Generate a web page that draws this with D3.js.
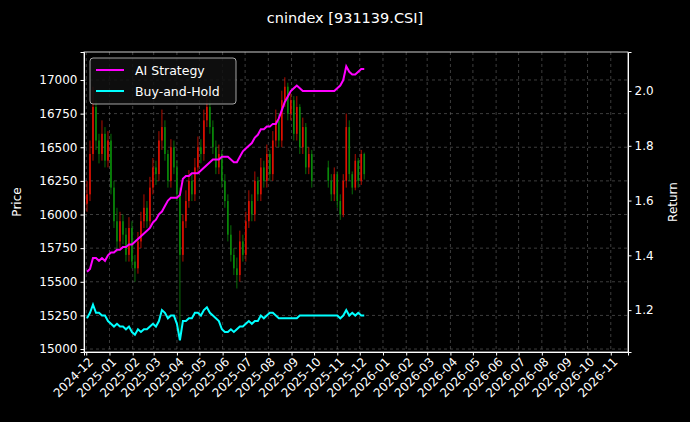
<!DOCTYPE html>
<html lang="en">
<head>
<meta charset="UTF-8">
<title>cnindex [931139.CSI]</title>
<script src="https://d3js.org/d3.v7.min.js"></script>
<style>
  html, body { margin: 0; padding: 0; background: #000; }
  body { width: 690px; height: 422px; overflow: hidden; font-family: 'DejaVu Sans', sans-serif; }
  .axis text { fill: #fff; font-size: 12px; font-family: 'DejaVu Sans', sans-serif; }
  .axis path, .axis line { stroke: #fff; }
  .grid line { stroke: #666; stroke-dasharray: 3,3; stroke-width: 0.6; }
</style>
</head>
<body>
<div id="chart"></div>
<script>
// ---- data ----
// candle dates: two trading segments (holiday gap in October), 4-day spacing
var seg1Start = "2024-12-02", seg1Count = 76;
var seg2Start = "2025-10-20", seg2Count = 13;

var closes = [16150,16450,16800,16550,16450,16600,16400,16550,16200,15950,
  15800,15950,15850,15700,15900,15650,15600,15800,15950,16050,
  15950,16200,16350,16300,16550,16650,16450,16250,16500,16350,
  16150,15700,15950,16100,16250,16150,16350,16500,16450,16700,
  16800,16650,16500,16350,16450,16250,16100,15850,15700,15600,
  15550,15800,15700,15950,16100,16000,16250,16150,16350,16250,
  16450,16300,16550,16700,16550,16850,16950,16750,16850,16600,
  16800,16500,16650,16350,16450,16250,
  16250,16150,16300,16100,16000,16250,16650,16300,16200,16400,16250,16450,16300];
var opens = [16080,16150,16450,16800,16550,16450,16600,16400,16550,16200,
  15950,15800,15950,15850,15700,15900,15650,15600,15800,15950,
  16050,15950,16200,16350,16300,16550,16650,16450,16250,16500,
  16350,16150,15700,15950,16100,16250,16150,16350,16500,16450,
  16700,16800,16650,16500,16350,16450,16250,16100,15850,15700,
  15600,15550,15800,15700,15950,16100,16000,16250,16150,16350,
  16250,16450,16300,16550,16700,16550,16850,16950,16750,16850,
  16600,16800,16500,16650,16350,16450,
  16350,16250,16150,16300,16100,16000,16250,16650,16300,16200,16400,16250,16450];
var highs = [16250,16550,16950,16850,16600,16700,16650,16620,16600,16250,
  16050,16020,16000,15900,15980,15950,15700,15870,16020,16150,
  16100,16280,16420,16400,16620,16780,16700,16480,16560,16550,
  16400,16200,16000,16180,16330,16300,16420,16580,16560,16780,
  16900,16850,16700,16550,16520,16480,16300,16150,15920,15750,
  15680,15880,15850,16020,16180,16150,16320,16280,16420,16400,
  16520,16480,16620,16780,16750,16920,17020,16980,16900,16880,
  16880,16820,16720,16680,16500,16480,
  16400,16300,16350,16320,16150,16300,16750,16700,16320,16450,16420,16480,16460];
var lows = [16020,16100,16400,16480,16380,16400,16350,16350,16150,15900,
  15720,15750,15780,15650,15650,15600,15500,15560,15750,15900,
  15900,15900,16150,16220,16250,16480,16400,16200,16200,16300,
  16100,15090,15650,15900,16050,16100,16100,16300,16380,16400,
  16650,16600,16450,16300,16300,16200,16050,15800,15650,15550,
  15450,15500,15650,15650,15900,15950,15950,16100,16100,16200,
  16200,16250,16250,16500,16500,16500,16800,16700,16700,16550,
  16550,16450,16450,16300,16300,16200,
  16200,16100,16100,16050,15960,15980,16200,16250,16150,16180,16200,16220,16260];

var strategy = [1.34,1.35,1.39,1.39,1.38,1.39,1.38,1.40,1.41,1.41,
  1.42,1.42,1.43,1.43,1.44,1.44,1.45,1.46,1.47,1.48,
  1.49,1.50,1.52,1.53,1.55,1.56,1.58,1.60,1.61,1.61,
  1.61,1.62,1.68,1.69,1.69,1.70,1.70,1.70,1.71,1.72,
  1.73,1.74,1.75,1.75,1.75,1.76,1.76,1.76,1.75,1.74,
  1.74,1.76,1.78,1.79,1.80,1.81,1.83,1.84,1.86,1.86,
  1.87,1.87,1.88,1.88,1.90,1.93,1.96,1.98,2.00,2.01,
  2.02,2.01,2.00,2.00,2.00,2.00,
  2.00,2.00,2.00,2.01,2.02,2.04,2.09,2.07,2.06,2.06,2.07,2.08,2.08];
var buyHold = [1.17,1.19,1.22,1.19,1.19,1.18,1.18,1.16,1.15,1.14,
  1.15,1.14,1.14,1.13,1.14,1.12,1.11,1.13,1.12,1.13,
  1.13,1.14,1.15,1.14,1.16,1.20,1.19,1.17,1.18,1.18,
  1.15,1.09,1.16,1.16,1.17,1.17,1.19,1.19,1.18,1.20,
  1.21,1.19,1.18,1.17,1.16,1.13,1.12,1.12,1.13,1.12,
  1.13,1.14,1.14,1.15,1.16,1.15,1.16,1.16,1.18,1.17,
  1.18,1.19,1.19,1.18,1.17,1.17,1.17,1.17,1.17,1.17,
  1.17,1.18,1.18,1.18,1.18,1.18,
  1.18,1.18,1.18,1.18,1.17,1.18,1.20,1.18,1.19,1.18,1.19,1.18,1.18];

var priceTicks = [15000,15250,15500,15750,16000,16250,16500,16750,17000];
var returnTicks = [1.2,1.4,1.6,1.8,2.0];

// ---- dates ----
var parse = d3.timeParse("%Y-%m-%d");
var dates = [];
var d0 = parse(seg1Start);
for (var i = 0; i < seg1Count; i++) dates.push(d3.timeDay.offset(d0, 4 * i));
var d1 = parse(seg2Start);
for (var j = 0; j < seg2Count; j++) dates.push(d3.timeDay.offset(d1, 4 * j));

var data = dates.map(function(d, k) {
  return {date: d, o: opens[k], h: highs[k], l: lows[k], c: closes[k], s: strategy[k], b: buyHold[k]};
});

// ---- layout ----
var W = 690, H = 422;
var m = {left: 84, right: 62, top: 52, bottom: 70};
var iw = W - m.left - m.right, ih = H - m.top - m.bottom;

var svg = d3.select('#chart').append('svg').attr('width', W).attr('height', H)
  .style('background', '#000');

var x = d3.scaleTime().domain([parse("2024-11-28"), parse("2026-11-24")]).range([0, iw]);
var y = d3.scaleLinear().domain([14978, 17208]).range([ih, 0]);
var y2 = d3.scaleLinear().domain([1.047, 2.1425]).range([ih, 0]);

var g = svg.append('g').attr('transform', 'translate(' + m.left + ',' + m.top + ')');

var months = d3.timeMonth.range(parse("2024-12-01"), parse("2026-11-02"));

// grid
g.append('g').attr('class', 'grid').selectAll('line').data(months).enter().append('line')
  .attr('x1', function(d) { return x(d); }).attr('x2', function(d) { return x(d); })
  .attr('y1', 0).attr('y2', ih);
g.append('g').attr('class', 'grid').selectAll('line').data(priceTicks).enter().append('line')
  .attr('x1', 0).attr('x2', iw)
  .attr('y1', function(d) { return y(d); }).attr('y2', function(d) { return y(d); });

// candles
var cw = 1.6;
var candles = g.append('g').selectAll('g').data(data).enter().append('g');
candles.append('line')
  .attr('x1', function(d) { return x(d.date); }).attr('x2', function(d) { return x(d.date); })
  .attr('y1', function(d) { return y(d.h); }).attr('y2', function(d) { return y(d.l); })
  .attr('stroke', function(d) { return d.c >= d.o ? '#e01000' : '#0a8a0a'; })
  .attr('stroke-width', 0.8);
candles.append('rect')
  .attr('x', function(d) { return x(d.date) - cw / 2; })
  .attr('width', cw)
  .attr('y', function(d) { return y(Math.max(d.o, d.c)); })
  .attr('height', function(d) { return Math.max(1, Math.abs(y(d.o) - y(d.c))); })
  .attr('fill', function(d) { return d.c >= d.o ? '#e01000' : '#0a8a0a'; });

// return lines
var lineS = d3.line().x(function(d) { return x(d.date); }).y(function(d) { return y2(d.s); });
var lineB = d3.line().x(function(d) { return x(d.date); }).y(function(d) { return y2(d.b); });
g.append('path').datum(data).attr('d', lineS).attr('fill', 'none')
  .attr('stroke', '#ff00ff').attr('stroke-width', 2);
g.append('path').datum(data).attr('d', lineB).attr('fill', 'none')
  .attr('stroke', '#00ffff').attr('stroke-width', 2);

// axes
var xAxis = g.append('g').attr('class', 'axis').attr('transform', 'translate(0,' + ih + ')')
  .call(d3.axisBottom(x).tickValues(months).tickFormat(d3.timeFormat('%Y-%m')).tickSizeOuter(0).tickSize(3.5));
xAxis.selectAll('text').attr('text-anchor', 'end').attr('dx', '-0.2em').attr('dy', '0.5em')
  .attr('transform', 'rotate(-45)');
g.append('g').attr('class', 'axis')
  .call(d3.axisLeft(y).tickValues(priceTicks).tickFormat(d3.format('d')).tickSizeOuter(0).tickSize(3.5));
g.append('g').attr('class', 'axis').attr('transform', 'translate(' + iw + ',0)')
  .call(d3.axisRight(y2).tickValues(returnTicks).tickFormat(d3.format('.1f')).tickSizeOuter(0).tickSize(3.5));
g.append('rect').attr('width', iw).attr('height', ih).attr('fill', 'none')
  .attr('stroke', '#fff').attr('stroke-width', 0.8);

// labels
svg.append('text').attr('x', W / 2).attr('y', 23).attr('text-anchor', 'middle')
  .attr('fill', '#fff').style('font-size', '14.5px').text('cnindex [931139.CSI]');
svg.append('text').attr('transform', 'translate(21,' + (m.top + ih / 2) + ') rotate(-90)')
  .attr('text-anchor', 'middle').attr('fill', '#fff').style('font-size', '12px').text('Price');
svg.append('text').attr('transform', 'translate(677,' + (m.top + ih / 2) + ') rotate(-90)')
  .attr('text-anchor', 'middle').attr('fill', '#fff').style('font-size', '12px').text('Return');

// legend
var leg = g.append('g').attr('transform', 'translate(6,6)');
leg.append('rect').attr('width', 146).attr('height', 46).attr('rx', 3)
  .attr('fill', '#111').attr('fill-opacity', 0.85).attr('stroke', '#ccc').attr('stroke-width', 0.8);
var items = [['AI Strategy', '#ff00ff'], ['Buy-and-Hold', '#00ffff']];
items.forEach(function(it, k) {
  var yy = 12 + k * 21;
  leg.append('line').attr('x1', 6).attr('x2', 34).attr('y1', yy).attr('y2', yy)
    .attr('stroke', it[1]).attr('stroke-width', 2);
  leg.append('text').attr('x', 45).attr('y', yy + 4.5).attr('fill', '#fff')
    .style('font-size', '12.5px').text(it[0]);
});
</script>
</body>
</html>
